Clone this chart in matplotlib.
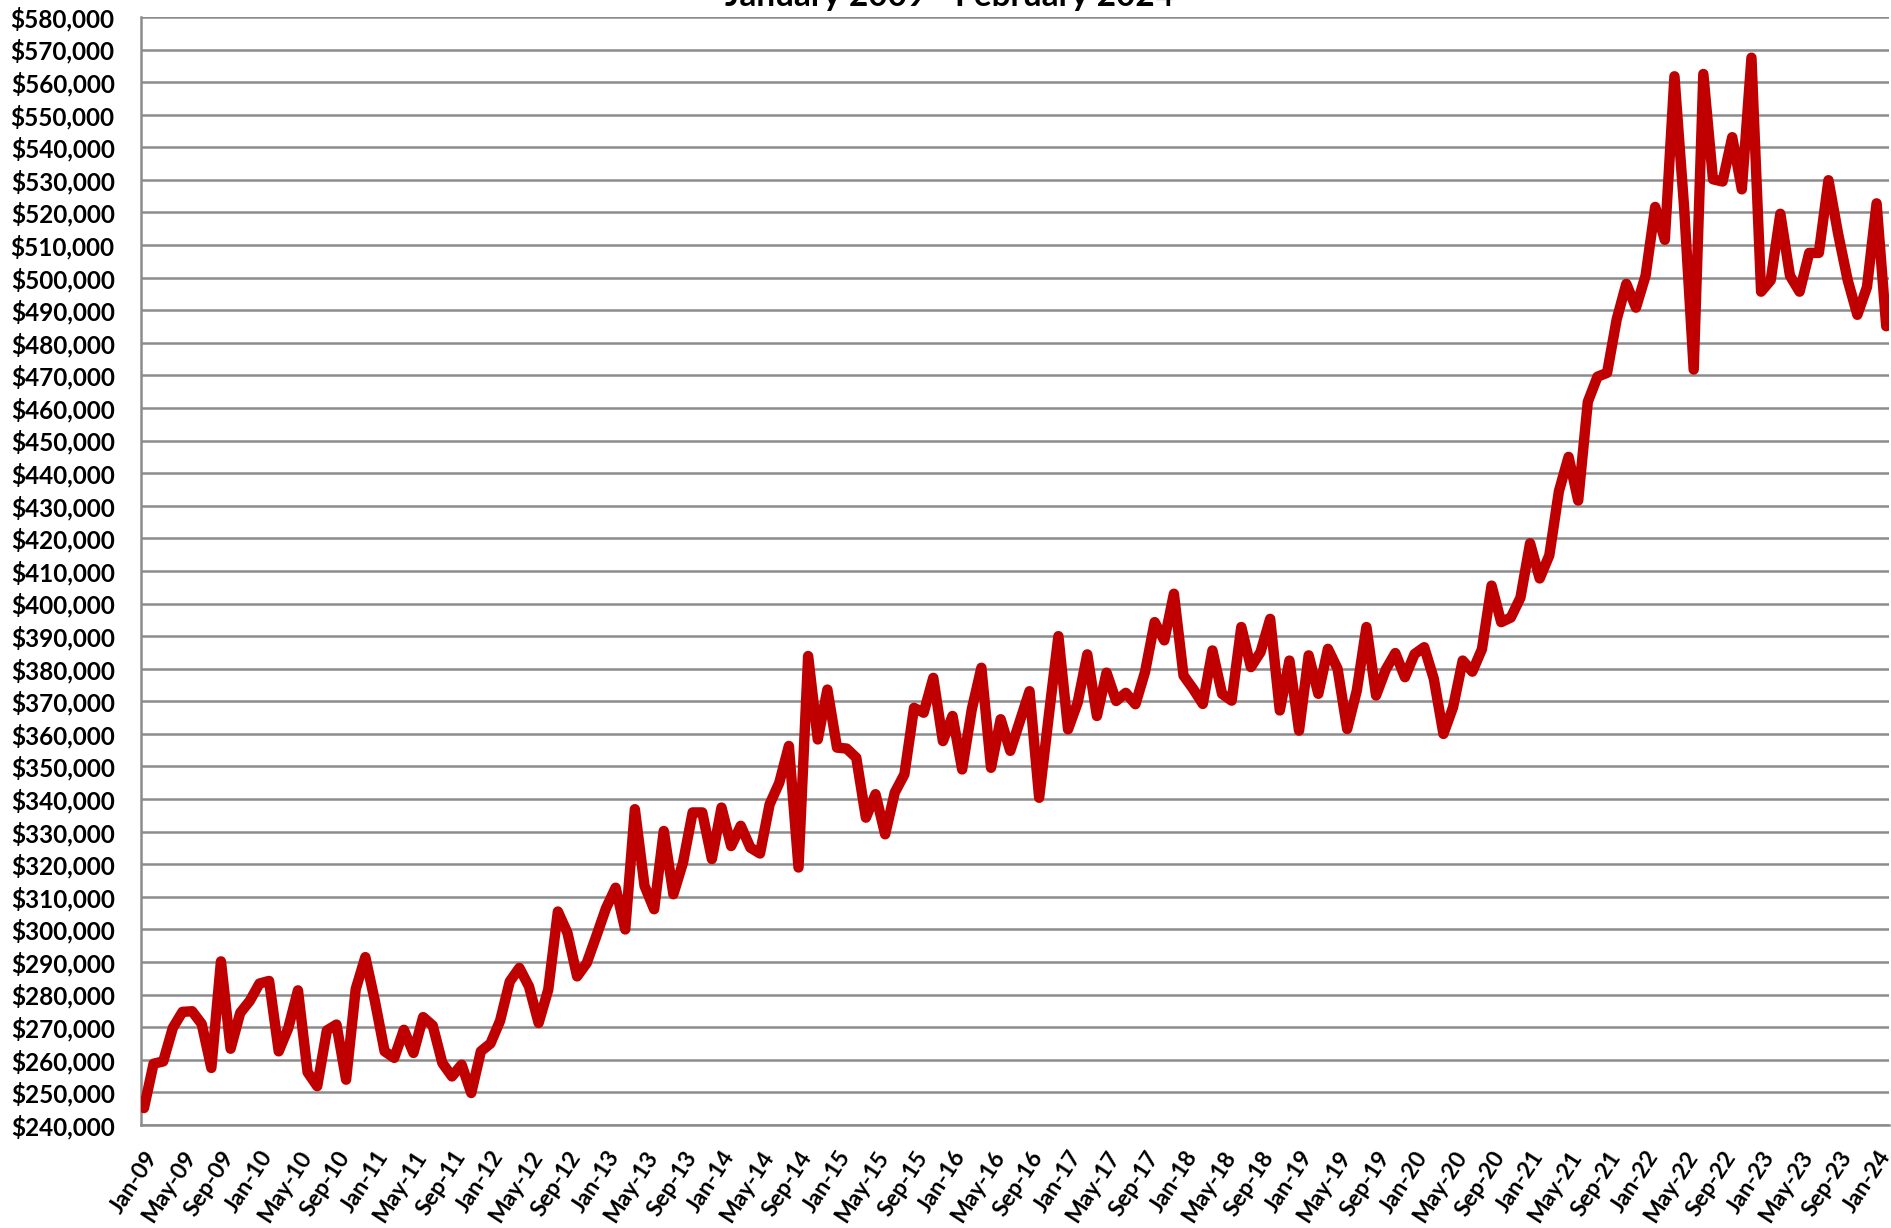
"""
月度價格折線圖 (January 2009 - February 2024)
"""

import matplotlib

matplotlib.use("Agg")
import matplotlib.pyplot as plt
import matplotlib.ticker as mticker
import pandas as pd

# 資料：每月數值 (單位：千)
months = pd.date_range("2009-01-01", "2024-02-01", freq="MS")
values_k = [
    245.2, 258.8, 259.5, 269.8, 274.7, 274.9, 271.0, 257.5, 290.2, 263.4, 274.4, 278.1,
    283.4, 284.2, 262.6, 269.8, 281.3, 256.2, 251.9, 269.0, 270.8, 253.9, 281.7, 291.5,
    277.9, 262.6, 260.6, 269.2, 262.1, 273.1, 270.5, 259.0, 254.9, 258.5, 249.8, 262.6,
    265.0, 272.0, 284.0, 288.2, 282.5, 271.3, 281.5, 305.5, 298.9, 285.6, 289.7, 298.0,
    306.5, 312.8, 300.0, 336.9, 313.4, 306.2, 330.2, 310.8, 320.5, 335.9, 335.9, 321.6,
    337.4, 325.6, 331.8, 325.1, 323.3, 338.4, 345.0, 356.3, 319.0, 383.9, 358.3, 373.6,
    355.8, 355.5, 352.7, 334.3, 341.5, 329.2, 342.0, 347.6, 368.0, 366.5, 377.2, 357.8,
    365.5, 349.1, 367.5, 380.3, 349.6, 364.5, 354.8, 364.0, 373.1, 340.4, 365.5, 390.0,
    361.4, 369.6, 384.4, 365.5, 378.8, 370.1, 372.6, 369.1, 379.0, 394.3, 388.7, 403.0,
    377.9, 373.8, 369.2, 385.6, 372.3, 370.2, 392.8, 380.5, 385.1, 395.3, 367.2, 382.5,
    361.0, 384.1, 372.3, 386.1, 380.0, 361.5, 373.3, 392.8, 371.8, 379.7, 384.8, 377.4,
    384.5, 386.6, 376.9, 360.0, 368.2, 382.5, 379.1, 386.0, 405.5, 394.3, 395.7, 401.8,
    418.5, 407.7, 414.8, 434.5, 445.0, 431.6, 461.9, 469.6, 470.8, 487.2, 498.1, 490.8,
    500.6, 521.7, 511.6, 561.8, 521.7, 471.8, 562.5, 530.2, 529.5, 543.1, 527.1, 567.5,
    495.7, 499.2, 519.6, 500.6, 495.7, 507.6, 507.6, 529.9, 513.5, 499.2, 488.6, 497.1,
    522.8, 485.1,
]
values = [v * 1000 for v in values_k]
month_labels = [d.strftime("%b-%y") for d in months]
title = "January 2009 - February 2024"

# 字體設定
plt.rcParams["font.family"] = ["Lato", "DejaVu Sans"]
plt.rcParams["font.weight"] = "bold"

fig = plt.figure(figsize=(18.91, 12.28), dpi=100)
ax = fig.add_axes([0.0746, 0.0839, 0.9244, 0.9023])

x = list(range(len(values)))
ax.plot(
    x, values, color="#C00000", linewidth=7.5,
    solid_joinstyle="round", solid_capstyle="round", zorder=3,
)

# 座標軸範圍與刻度
ax.set_xlim(-0.3, len(values) - 0.7)
ax.set_ylim(240000, 580000)
ax.yaxis.set_major_locator(mticker.MultipleLocator(10000))
ax.yaxis.set_major_formatter(mticker.FuncFormatter(lambda v, _: f"${v:,.0f}"))

tick_pos = x[::4]
ax.set_xticks(tick_pos)
ax.set_xticklabels(
    [month_labels[i] for i in tick_pos],
    rotation=57, ha="right", va="top", rotation_mode="anchor",
)
ax.tick_params(axis="x", length=0, pad=16, labelsize=16.5)
ax.tick_params(axis="y", length=0, pad=19, labelsize=17.5)

# 網格線
ax.grid(True, axis="y", color="#8c8c8c", linewidth=1.8, zorder=0)
ax.grid(False, axis="x")
for side in ["top", "right"]:
    ax.spines[side].set_visible(False)
for side in ["left", "bottom"]:
    ax.spines[side].set_color("#8c8c8c")
    ax.spines[side].set_linewidth(1.8)

# 標題（上方被裁切）
fig.text(0.502, 1 - 6 / 1228, title, ha="center", va="baseline",
         fontsize=24, fontweight="bold")

plt.savefig("out.png", dpi=100)
plt.close()
